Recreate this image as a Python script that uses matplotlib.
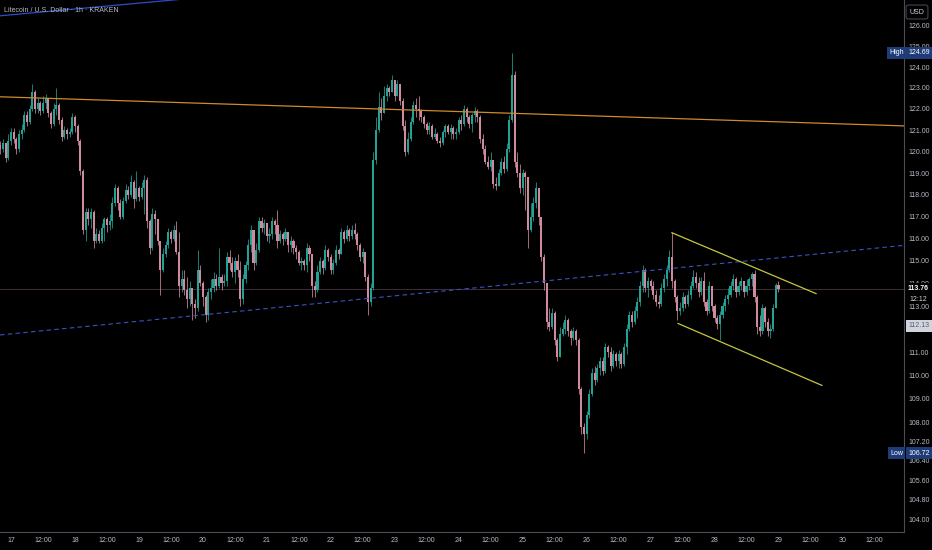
import numpy as np
import matplotlib
matplotlib.use("Agg")
import matplotlib.pyplot as plt
from matplotlib.ticker import NullLocator, NullFormatter, FixedLocator, FixedFormatter
from matplotlib.transforms import blended_transform_factory

plt.rcParams['font.family'] = ['Liberation Sans', 'DejaVu Sans']

# hourly LTC/USD candles, hour 0 = the 17th 00:00, first bar at hour -4
first_hour = -4
first_open = 120.3
closes = [
    120.1, 120.4, 119.7, 120.5,
    120.9, 120.6, 120.1, 120.8, 121.0, 121.7, 121.4, 122.0, 122.8, 122.0,
    122.3, 121.9, 122.3, 122.5, 121.8, 121.3, 122.0, 122.2, 121.5, 120.7,
    121.0, 120.8, 120.9, 121.6, 121.2, 120.5, 119.1, 116.4, 117.2, 116.9,
    117.2, 115.9, 116.2, 115.9, 116.5, 116.9, 116.6, 116.8, 117.6, 118.3,
    117.6, 117.0, 117.7, 118.2, 118.0, 118.6, 117.8, 118.3, 117.9, 118.3,
    118.7, 116.8, 115.6, 117.1, 116.9, 115.9, 114.6, 115.3, 115.7, 116.3,
    116.0, 116.4, 115.4, 113.9, 114.2, 113.7, 113.3, 113.8, 113.1, 112.9,
    114.6, 114.0, 113.4, 112.6, 113.6, 113.8, 114.2, 113.9, 114.3, 114.0,
    114.1, 115.2, 114.9, 114.5, 115.0, 114.6, 113.3, 114.2, 114.8, 115.7,
    116.4, 114.9, 115.5, 116.8, 116.5, 116.7, 116.1, 116.2, 116.8, 116.6,
    115.9, 116.2, 116.0, 116.3, 115.7, 115.9, 115.6, 115.4, 114.9, 115.0,
    114.8, 115.6, 115.3, 113.9, 113.7, 114.5, 115.0, 114.7, 115.5, 115.2,
    114.6, 114.9, 115.5, 115.3, 116.3, 116.0, 116.4, 116.1, 116.4, 116.2,
    115.7, 115.2, 115.4, 114.3, 113.2, 113.8, 119.6, 121.0, 122.1, 121.8,
    122.6, 123.0, 122.8, 123.4, 122.6, 123.2, 122.4, 121.2, 120.0, 120.6,
    121.4, 122.2, 122.0, 121.9, 121.6, 121.3, 121.0, 121.2, 120.7, 120.8,
    120.5, 120.4, 120.9, 121.2, 120.9, 121.1, 120.8, 120.9, 121.5, 121.3,
    122.0, 121.6, 121.3, 121.7, 121.9, 121.6, 120.6, 120.1, 119.5, 119.3,
    119.6, 118.5, 118.4, 119.0, 119.5, 119.2, 120.1, 121.5, 123.6, 119.5,
    119.0, 118.3, 119.0, 118.8, 116.4, 117.0, 117.6, 118.3, 117.0, 115.2,
    114.0, 112.3, 112.1, 112.7, 111.5, 110.8, 111.8, 112.0, 112.4, 111.9,
    111.6, 111.9, 111.5, 109.4, 107.8, 107.5, 108.3, 109.2, 110.1, 109.8,
    110.3, 110.6, 110.2, 111.2, 111.0, 110.4, 110.9, 110.6, 110.9, 110.5,
    111.2, 112.0, 112.6, 112.3, 112.8, 113.2, 113.9, 114.6, 113.8, 114.1,
    113.9, 113.5, 113.2, 113.1, 113.8, 114.2, 114.6, 115.2, 114.1, 113.4,
    112.8, 112.9, 113.4, 113.1, 113.5, 113.9, 114.3, 114.0, 113.6, 114.1,
    113.2, 112.8, 113.9, 113.0, 112.5, 112.2, 112.6, 113.0, 113.3, 113.5,
    113.9, 114.2, 113.6, 113.9, 114.1, 113.6, 113.9, 114.2, 114.4, 113.4,
    112.1, 111.9, 112.9, 112.3, 111.9, 112.0, 112.9, 113.95, 113.76,
]
highs = [
    120.5, 120.6, 120.4, 120.8,
    121.1, 121.1, 120.7, 121.0, 121.3, 121.9, 121.9, 122.2, 123.2, 122.9,
    122.5, 122.4, 122.6, 122.7, 122.5, 121.9, 122.3, 123.0, 122.3, 121.6,
    121.2, 121.1, 121.1, 121.8, 121.7, 121.3, 120.6, 119.2, 117.4, 117.4,
    117.4, 117.3, 116.5, 116.4, 116.7, 117.0, 117.0, 117.1, 117.9, 118.5,
    118.4, 117.8, 117.9, 118.5, 118.4, 118.9, 118.7, 119.1, 118.4, 118.6,
    118.9, 118.8, 116.9, 117.4, 117.3, 116.9, 115.9, 115.6, 115.9, 116.5,
    116.4, 116.6, 116.8, 116.3, 114.6, 114.6, 114.3, 114.1, 113.7, 113.3,
    115.5, 114.8, 114.1, 113.5, 113.8, 114.2, 114.5, 114.4, 115.6, 114.4,
    114.4, 115.4, 115.5, 115.2, 115.2, 115.3, 115.0, 114.4, 115.0, 116.0,
    116.6, 116.3, 115.8, 117.0, 117.0, 116.9, 116.7, 116.5, 117.0, 116.9,
    117.3, 116.4, 116.3, 116.5, 116.3, 116.1, 116.0, 115.7, 115.5, 115.2,
    115.1, 115.8, 115.7, 115.3, 114.1, 114.8, 115.2, 115.1, 115.7, 115.6,
    115.3, 115.1, 115.7, 115.6, 116.5, 116.4, 116.6, 116.5, 116.6, 116.7,
    116.3, 115.8, 115.6, 115.3, 114.4, 114.0, 120.0, 121.6, 122.8, 122.5,
    123.1, 123.2, 123.1, 123.6, 123.2, 123.4, 123.2, 122.5, 121.5, 120.9,
    121.6, 122.4, 122.5, 122.6, 122.0, 121.7, 121.4, 121.4, 121.3, 121.1,
    120.9, 120.7, 121.0, 121.3, 121.3, 121.3, 121.2, 121.1, 121.6, 121.7,
    122.2, 122.1, 121.7, 121.8, 122.1, 122.0, 121.7, 120.8, 120.3, 119.8,
    120.0, 119.6, 118.8, 119.2, 119.7, 119.8, 120.4, 121.7, 124.69, 123.8,
    120.0, 119.4, 119.2, 119.1, 118.5, 117.6, 117.9, 118.6, 118.3, 116.8,
    115.3, 114.0, 112.9, 112.9, 112.8, 111.6, 112.1, 112.3, 112.6, 112.5,
    112.0, 112.1, 112.0, 111.6, 109.5, 108.0, 108.5, 109.4, 110.3, 110.4,
    110.5, 110.8, 110.8, 111.4, 111.3, 111.2, 111.1, 111.0, 111.1, 111.0,
    111.4, 112.2, 112.8, 112.8, 113.0, 113.4, 114.1, 114.8, 114.7, 114.3,
    114.2, 114.1, 113.7, 113.5, 114.0, 114.4, 114.8, 115.5, 116.3, 114.2,
    113.5, 113.2, 113.6, 113.5, 113.7, 114.1, 114.6, 114.5, 114.3, 114.3,
    114.5, 113.3, 114.1, 113.9, 113.1, 112.6, 112.8, 113.2, 113.5, 113.8,
    114.1, 114.4, 114.3, 114.1, 114.3, 114.1, 114.2, 114.3, 114.5, 114.6,
    113.5, 112.6, 113.1, 113.0, 112.5, 112.2, 113.1, 114.0, 114.1,
]
lows = [
    119.9, 120.0, 119.5, 119.6,
    120.3, 120.4, 119.9, 120.0, 120.6, 120.9, 121.2, 121.3, 121.9, 121.8,
    121.8, 121.7, 121.8, 122.0, 121.6, 121.1, 121.2, 121.7, 121.3, 120.5,
    120.6, 120.6, 120.7, 120.8, 120.9, 120.3, 118.9, 116.2, 115.9, 116.6,
    116.5, 115.6, 115.8, 115.8, 115.8, 115.9, 116.3, 116.4, 116.5, 117.5,
    117.3, 116.9, 116.9, 117.6, 117.8, 117.9, 117.4, 117.7, 117.7, 117.8,
    117.1, 116.5, 115.3, 115.5, 116.2, 115.7, 113.5, 114.5, 115.2, 115.6,
    115.8, 115.9, 115.3, 113.4, 113.6, 113.5, 112.9, 113.0, 112.4, 112.5,
    112.8, 113.9, 113.0, 112.3, 112.4, 113.3, 113.6, 113.7, 113.8, 113.7,
    113.9, 113.9, 114.6, 114.3, 114.0, 114.3, 113.0, 113.1, 114.0, 114.6,
    115.4, 114.6, 114.8, 115.4, 116.3, 116.2, 115.9, 115.8, 116.0, 116.2,
    115.6, 115.8, 115.7, 115.9, 115.4, 115.4, 115.3, 115.1, 114.8, 114.6,
    114.6, 114.5, 115.0, 113.4, 113.4, 113.6, 114.4, 114.4, 114.6, 115.0,
    114.4, 114.4, 114.8, 115.1, 115.3, 115.8, 115.9, 115.9, 116.0, 116.0,
    115.5, 115.0, 114.9, 114.1, 112.6, 113.0, 113.7, 119.4, 120.9, 121.5,
    121.8, 122.4, 122.6, 122.8, 122.4, 122.6, 122.2, 121.0, 119.8, 119.9,
    120.5, 121.3, 121.6, 121.5, 121.4, 121.1, 120.8, 120.8, 120.6, 120.6,
    120.4, 120.2, 120.3, 120.7, 120.8, 120.6, 120.6, 120.6, 120.8, 121.0,
    121.2, 121.4, 121.1, 120.9, 121.4, 121.4, 120.4, 119.9, 119.4, 119.2,
    119.1, 118.3, 118.2, 118.4, 118.9, 119.0, 119.1, 120.0, 121.4, 119.3,
    118.8, 118.1, 118.0, 117.3, 115.6, 116.3, 116.8, 117.4, 116.6, 115.0,
    113.7, 112.0, 111.9, 112.0, 111.3, 110.6, 110.8, 111.7, 111.8, 111.7,
    111.3, 111.5, 111.3, 109.2, 107.5, 106.72, 107.3, 108.2, 109.1, 109.6,
    109.7, 110.0, 110.0, 110.1, 110.8, 110.2, 110.3, 110.4, 110.3, 110.3,
    110.4, 110.9, 111.9, 112.1, 112.2, 112.5, 113.0, 113.6, 113.6, 113.4,
    113.7, 113.3, 113.0, 112.9, 113.0, 113.6, 113.9, 114.5, 113.8, 113.2,
    112.4, 112.6, 112.8, 112.9, 113.0, 113.3, 113.8, 113.8, 113.4, 113.5,
    113.0, 112.6, 112.7, 112.8, 112.3, 112.0, 111.5, 112.5, 112.8, 113.1,
    113.4, 113.7, 113.4, 113.5, 113.7, 113.4, 113.5, 113.7, 113.9, 113.2,
    111.8, 111.7, 111.8, 112.1, 111.7, 111.6, 111.9, 112.9, 113.6,
]

# price scale (112.00 sits under the 112.13 marker) and time axis labels
price_ticks = [126, 125, 124, 123, 122, 121, 120, 119, 118, 117, 116, 115, 114, 113,
               111, 110, 109, 108, 107.2, 106.4, 105.6, 104.8, 104.0]
time_labels = ['17', '12:00', '18', '12:00', '19', '12:00', '20', '12:00', '21', '12:00',
               '22', '12:00', '23', '12:00', '24', '12:00', '25', '12:00', '26', '12:00',
               '27', '12:00', '28', '12:00', '29', '12:00', '30', '12:00']

# drawn lines: (hour, price) end points
orange_line = [(-4.1, 122.58), (335.1, 121.2)]
blue_dashed = [(-4.1, 111.74), (335.1, 115.7)]
blue_solid = [(-4.1, 126.5), (108.0, 127.85)]
channel_top = [(248.0, 116.27), (302.1, 113.55)]
channel_bottom = [(250.3, 112.24), (304.3, 109.57)]

last_price = 113.76
high_price = 124.69
low_price = 106.72
marked_price = 112.13

UP = '#22a195'
DOWN = '#d08a9f'
TXT = '#b8bbc4'
EDGE = '#4a4d57'
FS = 5.0

closes = np.array(closes)
opens = np.concatenate([[first_open], closes[:-1]])
highs = np.maximum(np.array(highs), np.maximum(opens, closes))
lows = np.minimum(np.array(lows), np.minimum(opens, closes))
hours = np.arange(first_hour, first_hour + len(closes))
up = closes >= opens

fig = plt.figure(figsize=(9.32, 5.5), dpi=100, facecolor='black')
ax = fig.add_axes([0, 18 / 550, 904 / 932, 532 / 550])
ax.set_facecolor('black')
ax.set_yscale('log')

cols = np.where(up, UP, DOWN)
ax.vlines(hours, lows, highs, colors=cols, linewidth=0.55, zorder=3)
body_low = np.minimum(opens, closes)
body_h = np.maximum(np.abs(closes - opens), 0.05)
ax.bar(hours, body_h, bottom=body_low, width=0.78, color=cols, linewidth=0, zorder=4)

def seg(pts, **kw):
    ax.plot([p[0] for p in pts], [p[1] for p in pts], **kw)

seg(orange_line, color='#cf8a2e', linewidth=0.9, zorder=5)
seg(blue_dashed, color='#3b52c4', linewidth=0.8, dashes=(4, 3), zorder=5)
seg(blue_solid, color='#2f4ccc', linewidth=0.9, zorder=5)
seg(channel_top, color='#c6c63c', linewidth=0.9, zorder=5)
seg(channel_bottom, color='#c6c63c', linewidth=0.9, zorder=5)
ax.axhline(last_price, color='#4a3540', linewidth=0.6, zorder=2)

ax.set_xlim(-4.13, 335.1)
ax.set_ylim(103.5, 127.28)

ax.yaxis.tick_right()
ax.yaxis.set_major_locator(FixedLocator(price_ticks))
ax.yaxis.set_major_formatter(FixedFormatter(['%.2f' % p for p in price_ticks]))
ax.yaxis.set_minor_locator(NullLocator())
ax.yaxis.set_minor_formatter(NullFormatter())
ax.set_xticks(np.arange(len(time_labels)) * 12)
ax.set_xticklabels(time_labels)
ax.tick_params(axis='y', length=0, pad=3.2, labelsize=FS, labelcolor=TXT)
ax.tick_params(axis='x', length=0, pad=3.8, labelsize=FS, labelcolor=TXT)

for s in ['top', 'left']:
    ax.spines[s].set_visible(False)
for s in ['right', 'bottom']:
    ax.spines[s].set_color(EDGE)
    ax.spines[s].set_linewidth(0.8)

tr = blended_transform_factory(ax.transAxes, ax.transData)
lab_x = 908 / 904
blue_box = dict(boxstyle='square,pad=0.35', facecolor='#1f3c78', edgecolor='none')
ax.text(lab_x, high_price, '%.2f' % high_price, transform=tr, ha='left', va='center',
        fontsize=FS, color='white', bbox=blue_box, clip_on=False, zorder=10)
ax.text(889 / 904, high_price, 'High', transform=tr, ha='left', va='center',
        fontsize=FS, color='white', bbox=blue_box, clip_on=False, zorder=10)
ax.text(lab_x, low_price, '%.2f' % low_price, transform=tr, ha='left', va='center',
        fontsize=FS, color='white', bbox=blue_box, clip_on=False, zorder=10)
ax.text(890 / 904, low_price, 'Low', transform=tr, ha='left', va='center',
        fontsize=FS, color='white', bbox=blue_box, clip_on=False, zorder=10)
ax.text(lab_x, last_price, '%.2f' % last_price, transform=tr, ha='left', va='center',
        fontsize=FS, color='white', fontweight='bold', clip_on=False, zorder=10,
        bbox=dict(boxstyle='square,pad=0.3', facecolor='black', edgecolor='none'))
ax.text(lab_x + 1 / 904, last_price, '\n12:12', transform=tr, ha='left', va='top',
        fontsize=FS, color='#d1d4dc', clip_on=False, zorder=10, linespacing=1.0)
ax.text(lab_x, marked_price, '%.2f' % marked_price, transform=tr, ha='left', va='center',
        fontsize=FS, color='#5d606b', clip_on=False, zorder=10,
        bbox=dict(boxstyle='square,pad=0.35', facecolor='#d1d4dc', edgecolor='none'))

fig.text(917 / 932, 1 - 12 / 550, 'USD', ha='center', va='center', fontsize=FS,
         color='#d1d4dc', bbox=dict(boxstyle='round,pad=0.5,rounding_size=0.3',
                                    facecolor='black', edgecolor=EDGE, linewidth=0.7))
fig.text(4 / 932, 1 - 10 / 550, 'Litecoin / U.S. Dollar · 1h · KRAKEN', ha='left',
         va='center', fontsize=FS, color=TXT)

fig.savefig('out.png', dpi=100, facecolor='black')
